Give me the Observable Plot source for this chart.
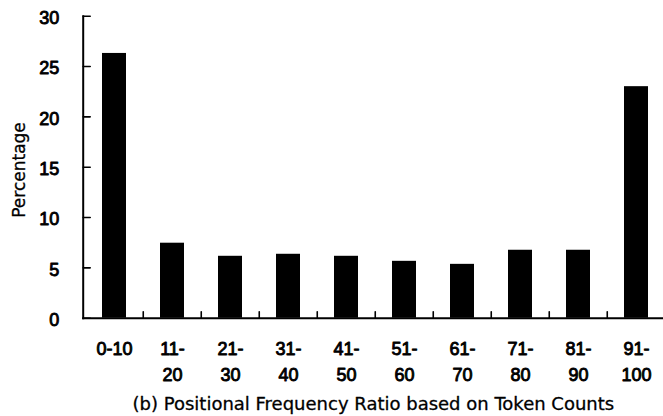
<!DOCTYPE html>
<html>
<head>
<meta charset="utf-8">
<script src="https://cdn.jsdelivr.net/npm/d3@7"></script>
<script src="https://cdn.jsdelivr.net/npm/@observablehq/plot@0.6"></script>
<style>
  html, body { margin: 0; padding: 0; background: #fff; }
</style>
</head>
<body>
<div id="chart"></div>
<script>
// ---- data ----
const categories = ["0-10", "11-20", "21-30", "31-40", "41-50", "51-60", "61-70", "71-80", "81-90", "91-100"];
const tickLabels = ["0-10", "11-\n20", "21-\n30", "31-\n40", "41-\n50", "51-\n60", "61-\n70", "71-\n80", "81-\n90", "91-\n100"];
const values = [26.3, 7.45, 6.15, 6.35, 6.15, 5.65, 5.35, 6.75, 6.75, 23.0];
const yTicks = [0, 5, 10, 15, 20, 25, 30];
const yLabel = "Percentage";
const xLabel = "(b) Positional Frequency Ratio based on Token Counts";

const data = categories.map((c, i) => ({category: c, value: values[i]}));
const labelOf = new Map(categories.map((c, i) => [c, tickLabels[i]]));

// ---- layout ----
const W = 663, H = 416;
const mL = 82.7, mT = 15.7, mB = H - 317.7;
const step = 58.5;
const xRange = [mL, mL + step * categories.length];
const yTickLen = 7, xTickLen = 6.5;
// straight-line shape for inward tick vectors
const lineShape = {draw(context, l) { context.moveTo(0, 0); context.lineTo(0, -l); }};

const chart = Plot.plot({
  width: W,
  height: H,
  marginLeft: mL,
  marginRight: 0,
  marginTop: mT,
  marginBottom: mB,
  style: {fontFamily: "'Liberation Sans', Arial, sans-serif", fontSize: "18px", color: "#000", background: "#fff"},
  x: {domain: categories, range: xRange, paddingInner: 0.58, paddingOuter: 0.29},
  y: {domain: [0, 30]},
  marks: [
    Plot.barY(data, {x: "category", y: "value", fill: "#000"}),
    Plot.frame({anchor: "left", strokeWidth: 2}),
    Plot.frame({anchor: "bottom", strokeWidth: 2}),
    // y tick marks pointing inward
    Plot.vector(yTicks, {y: d => d, frameAnchor: "left", length: yTickLen, rotate: 90, anchor: "start", shape: lineShape, stroke: "#000", strokeWidth: 1.6}),
    // y tick labels
    Plot.axisY({ticks: yTicks, tickSize: 0, tickPadding: 24, dy: 2, label: null, fontSize: 18, textStroke: "#000", textStrokeWidth: 0.9}),
    // x boundary ticks pointing inward
    Plot.vector(categories.slice(1), {x: d => d, frameAnchor: "bottom", dx: -step / 2, length: xTickLen, anchor: "start", shape: lineShape, stroke: "#000", strokeWidth: 1.6}),
    // x tick labels
    Plot.axisX({ticks: categories, tickSize: 0, tickPadding: 17.9, tickFormat: d => labelOf.get(d), lineHeight: 26 / 18, label: null, fontSize: 18, textStroke: "#000", textStrokeWidth: 0.9}),
    // y label
    Plot.text([yLabel], {frameAnchor: "left", rotate: -90, textAnchor: "middle", lineAnchor: "middle", dx: -64.1, dy: 2.8, fontFamily: "DejaVu Sans", fontSize: 17, fill: "#000", stroke: "#000", strokeWidth: 0.3}),
    // x label (caption)
    Plot.text([xLabel], {frameAnchor: "bottom", textAnchor: "middle", lineAnchor: "bottom", dy: 91.6, fontFamily: "DejaVu Sans", fontSize: 18, fill: "#000", stroke: "#000", strokeWidth: 0.3})
  ]
});

document.getElementById("chart").append(chart);
</script>
</body>
</html>
